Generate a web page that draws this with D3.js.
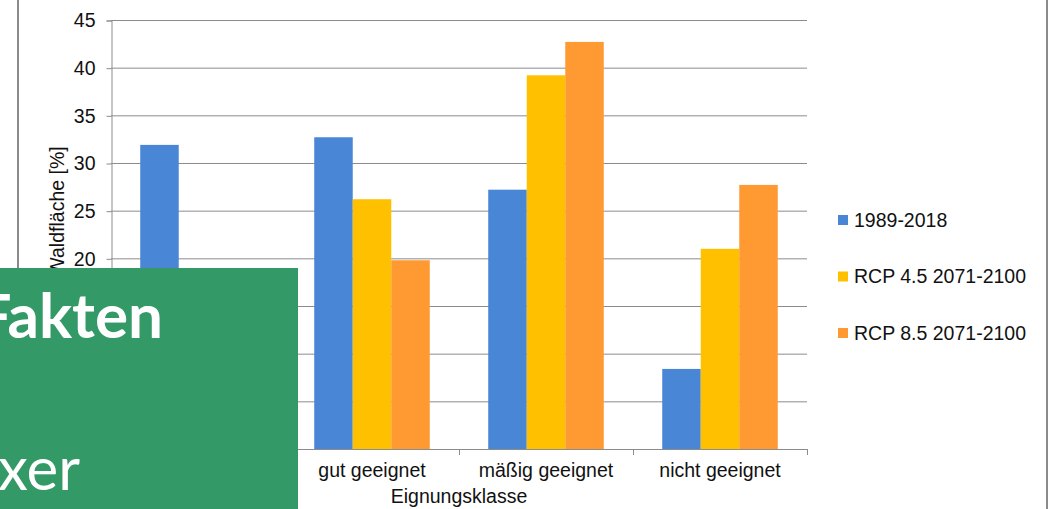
<!DOCTYPE html>
<html>
<head>
<meta charset="utf-8">
<script src="https://cdn.jsdelivr.net/npm/d3@7"></script>
<style>
  body { margin: 0; background: #fff; }
  svg { display: block; font-family: "Liberation Sans", Arial, sans-serif; }
</style>
</head>
<body>
<svg id="chart" width="1054" height="509"></svg>
<script>
// categories + series
const categories = ["sehr gut geeignet", "gut geeignet", "mäßig geeignet", "nicht geeignet"];
const seriesNames = ["1989-2018", "RCP 4.5 2071-2100", "RCP 8.5 2071-2100"];
const values1989 = [31.9, 32.7, 27.2, 8.4];
const valuesRcp45 = [13.6, 26.2, 39.2, 21.0];
const valuesRcp85 = [9.9, 19.8, 42.7, 27.7];
const yTicks = [0, 5, 10, 15, 20, 25, 30, 35, 40, 45];
const colors = ["#4a86d6", "#ffc000", "#ff9932"];

const allValues = [values1989, valuesRcp45, valuesRcp85];
const rows = categories.map((c, i) => ({
  cat: c,
  vals: seriesNames.map((s, j) => ({ series: s, value: allValues[j][i] }))
}));

const svg = d3.select("#chart");
const fs = "19.5px";

// chart frame (left/right border)
svg.append("line").attr("x1", 18).attr("x2", 18).attr("y1", 0).attr("y2", 509)
  .attr("stroke", "#8a8a8a").attr("stroke-width", 2);
svg.append("line").attr("x1", 1047).attr("x2", 1047).attr("y1", 0).attr("y2", 509)
  .attr("stroke", "#8a8a8a").attr("stroke-width", 2);

const x0 = d3.scaleBand().domain(categories).range([111, 807]).paddingInner(0.336).paddingOuter(0.168);
const x1 = d3.scaleBand().domain(seriesNames).range([0, x0.bandwidth()]);
const y = d3.scaleLinear().domain([0, 45]).range([449, 20]);
const color = d3.scaleOrdinal(seriesNames, colors);

// gridlines
svg.append("g").selectAll("line").data(yTicks.slice(1)).enter().append("line")
  .attr("x1", 111).attr("x2", 807)
  .attr("y1", d => y(d) + 0.5).attr("y2", d => y(d) + 0.5)
  .attr("stroke", "#8c8c8c").attr("stroke-width", 1);

// y axis
const yAxis = svg.append("g").attr("transform", "translate(111.5,0.5)")
  .call(d3.axisLeft(y).tickValues(yTicks).tickSize(5).tickPadding(11));
yAxis.select(".domain").attr("stroke", "#8c8c8c");
yAxis.selectAll(".tick line").attr("stroke", "#8c8c8c");
yAxis.selectAll("text").attr("font-size", fs).attr("fill", "#111")
  .attr("font-family", "Liberation Sans, Arial, sans-serif");

// bars
const groups = svg.append("g").selectAll("g").data(rows).enter().append("g")
  .attr("transform", d => `translate(${x0(d.cat)},0)`);
groups.selectAll("rect").data(d => d.vals).enter().append("rect")
  .attr("x", d => x1(d.series)).attr("width", x1.bandwidth())
  .attr("y", d => y(d.value)).attr("height", d => y(0) - y(d.value))
  .attr("fill", d => color(d.series));

// x axis
svg.append("line").attr("x1", 111).attr("x2", 807).attr("y1", 449.5).attr("y2", 449.5)
  .attr("stroke", "#8c8c8c");
const step = x0.step();
svg.append("g").selectAll("line").data(d3.range(categories.length + 1)).enter().append("line")
  .attr("x1", i => 111 + i * step + 0.5).attr("x2", i => 111 + i * step + 0.5)
  .attr("y1", 449).attr("y2", 455).attr("stroke", "#8c8c8c");
svg.append("g").selectAll("text").data(categories).enter().append("text")
  .attr("x", d => x0(d) + x0.bandwidth() / 2).attr("y", 477)
  .attr("text-anchor", "middle").attr("font-size", fs).attr("fill", "#111").text(d => d);

// axis titles
svg.append("text").attr("x", 459).attr("y", 503).attr("text-anchor", "middle")
  .attr("font-size", fs).attr("fill", "#111").text("Eignungsklasse");
svg.append("text").attr("transform", "translate(64,211) rotate(-90)")
  .attr("text-anchor", "middle").attr("font-size", fs).attr("fill", "#111").text("Waldfläche [%]");

// legend
const legend = svg.append("g").selectAll("g").data(seriesNames).enter().append("g")
  .attr("transform", (d, i) => `translate(838,${220 + i * 56.5})`);
legend.append("rect").attr("x", 0).attr("y", -5).attr("width", 10).attr("height", 10)
  .attr("fill", d => color(d));
legend.append("text").attr("x", 16).attr("dy", "0.35em").attr("font-size", fs)
  .attr("fill", "#111").text(d => d);

// green overlay box from the page
svg.append("rect").attr("x", 0).attr("y", 268).attr("width", 298).attr("height", 241)
  .attr("fill", "#339966");
svg.append("text").attr("x", 163).attr("y", 338).attr("text-anchor", "end")
  .attr("font-family", "Lato, sans-serif").attr("font-weight", "bold").attr("font-size", "62px")
  .attr("fill", "#fff").text("Fakten");
svg.append("text").attr("x", 80).attr("y", 490).attr("text-anchor", "end")
  .attr("font-family", "Lato, sans-serif").attr("font-size", "60px")
  .attr("fill", "#fff").text("xer");
</script>
</body>
</html>
